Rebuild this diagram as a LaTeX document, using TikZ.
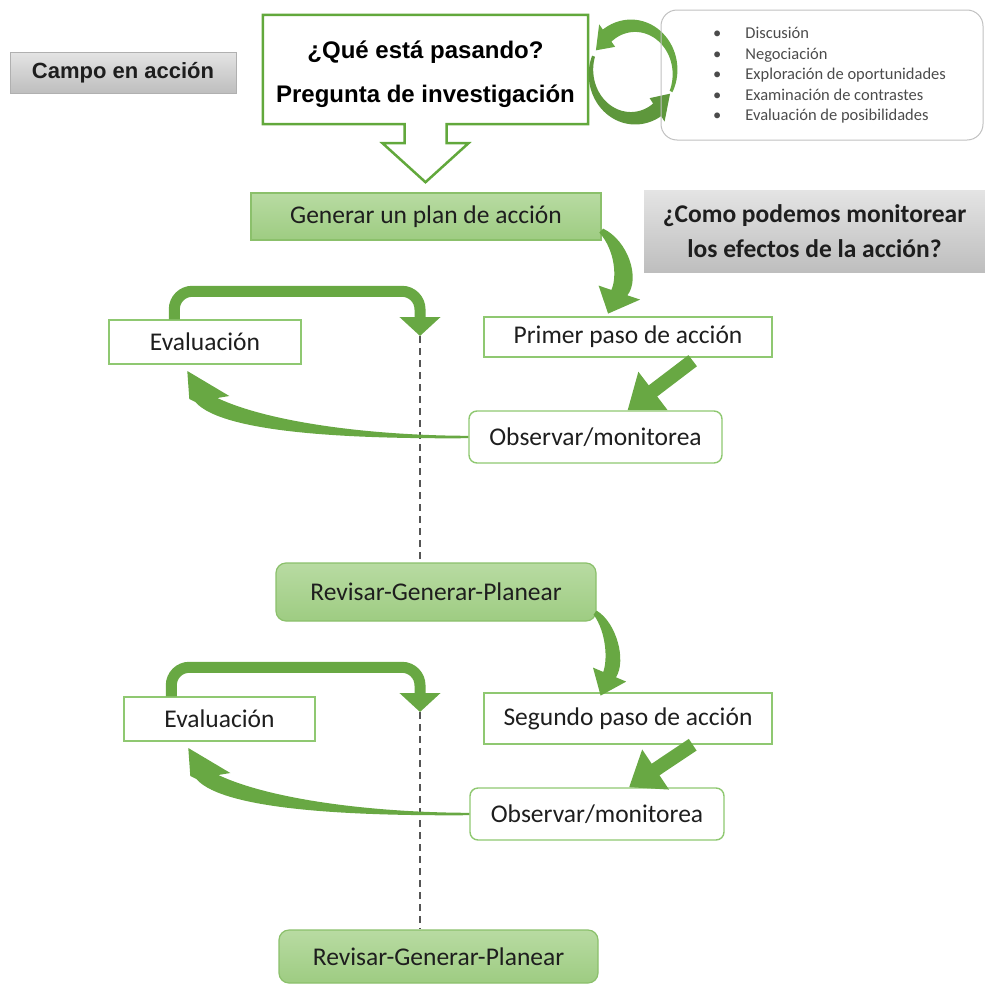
\documentclass[tikz,border=0pt]{standalone}
\usepackage{fontspec}
\setmainfont{Carlito}
\newfontfamily\arialfont{Liberation Sans}
\usetikzlibrary{arrows.meta,calc}

\definecolor{leaf}{HTML}{62A83C}
\definecolor{leaflight}{HTML}{8FC871}
\definecolor{leafmid}{HTML}{8BC06B}
\definecolor{arrowgreen}{HTML}{68A843}
\definecolor{boxtop}{HTML}{B8DBA2}
\definecolor{boxbot}{HTML}{9ECC82}
\definecolor{graytop}{HTML}{E4E4E4}
\definecolor{graybot}{HTML}{BEBEBE}
\definecolor{grayedge}{HTML}{B0B0B0}
\definecolor{ink}{HTML}{1E1E1E}
\definecolor{dashgray}{HTML}{555555}

% tapered arrow running left from an "Observar" box up to an "Evaluacion" box
\newcommand{\backarrow}[1]{%
  \fill[arrowgreen, shift={(#1)}]
    (0,-1.2) .. controls (-100,-1.5) and (-200,-15) .. (-251,-39)
    -- (-239,-41) -- (-281,-66) -- (-279,-38) -- (-273,-35)
    .. controls (-245,-3) and (-110,2) .. (0,1.2) -- cycle;}

% tapered arrow bending down from a plan box to the next action step
\newcommand{\downcurve}[2]{%
  \fill[arrowgreen, shift={(#1)}, xscale=#2]
    (2,-2) .. controls (22,10) and (32,48) .. (21.4,64.7)
    -- (31.6,69) -- (6,83) -- (-1.6,55) -- (8.6,59.3)
    .. controls (13,48) and (12,20) .. (-1,2) -- cycle;}

\begin{document}
\begin{tikzpicture}[x=1pt,y=-1pt,
  txt/.style={text=ink, font=\fontsize{25.5}{30}\selectfont, inner sep=0pt},
  whitebox/.style={txt, draw=leaflight, line width=1.4pt, fill=white},
  greenbox/.style={txt, draw=leafmid, line width=1.2pt, top color=boxtop, bottom color=boxbot},
  graybox/.style={draw=grayedge, line width=0.8pt, top color=graytop, bottom color=graybot, inner sep=0pt, text=ink},
  looparrow/.style={draw=arrowgreen, line width=11pt, rounded corners=18pt, -{Triangle[width=40pt,length=19pt]}},
  slantarrow/.style={draw=arrowgreen, line width=14pt, -{Triangle[width=46pt,length=32pt]}},
  dashline/.style={draw=dashgray, line width=1.3pt, dash pattern=on 7pt off 5pt},
]
\useasboundingbox (0,0) rectangle (985,985);

% ---- header row
\node[graybox, minimum width=226pt, minimum height=41pt,
      font=\arialfont\bfseries\fontsize{22}{26}\selectfont] (campo) at (123,72.5) {Campo en acción};

\node[minimum width=325pt, minimum height=109pt, inner sep=0pt] (q) at (425.5,69.5) {};
\draw[leaf, line width=2.5pt, fill=white, line join=miter]
  (q.north west) -- (q.north east) -- (q.south east)
  -- ($(q.south)+(21,0)$) -- ($(q.south)+(21,19)$) -- ($(q.south)+(43,19)$)
  -- ($(q.south)+(0,58)$)
  -- ($(q.south)+(-43,19)$) -- ($(q.south)+(-21,19)$) -- ($(q.south)+(-21,0)$)
  -- (q.south west) -- cycle;
\node[align=center, inner sep=0pt, text=black,
      font=\arialfont\bfseries\fontsize{24}{44}\selectfont] (qtext) at ($(q.center)+(0,4.5)$)
  {¿Qué está pasando?\\Pregunta de investigación};

% cycle of two arrows beside the question
\begin{scope}[shift={(633,72)}, yscale=-1.1]
  \fill[arrowgreen]
    plot[domain=-25:128, samples=40] ({(42+1.5+5.5*(\x+25)/153)*cos(\x)}, {(42+1.5+5.5*(\x+25)/153)*sin(\x)})
    -- (128:55) -- (152:42) -- (128:29)
    -- plot[domain=128:-25, samples=40] ({(42-1.5-5.5*(\x+25)/153)*cos(\x)}, {(42-1.5-5.5*(\x+25)/153)*sin(\x)})
    -- cycle;
  \fill[arrowgreen!90!black]
    plot[domain=160:305, samples=40] ({(42+1.5+5.5*(\x-160)/145)*cos(\x)}, {(42+1.5+5.5*(\x-160)/145)*sin(\x)})
    -- (305:55) -- (332:42) -- (305:29)
    -- plot[domain=305:160, samples=40] ({(42-1.5-5.5*(\x-160)/145)*cos(\x)}, {(42-1.5-5.5*(\x-160)/145)*sin(\x)})
    -- cycle;
\end{scope}

\node[draw=grayedge!80, line width=1pt, rounded corners=16pt, minimum width=322pt, minimum height=130pt] (ideas) at (822,75) {};
\node[anchor=west, inner sep=0pt, text=ink!80, font=\fontsize{16.5}{20.5}\selectfont] (list) at (713,75.5)
  {\begin{tabular}{@{}l@{\hspace{24pt}}l@{}}
   • & Discusión\\
   • & Negociación\\
   • & Exploración de oportunidades\\
   • & Examinación de contrastes\\
   • & Evaluación de posibilidades
   \end{tabular}};

% ---- plan and monitoring question
\node[greenbox, minimum width=350pt, minimum height=47pt] (gen) at (426,216.5) {Generar un plan de acción};
\node[graybox, draw=none, minimum width=341pt, minimum height=82pt, align=center,
      font=\bfseries\fontsize{25.5}{35}\selectfont] (monitor) at (814.5,231)
  {¿Como podemos monitorear\\los efectos de la acción?};

% ---- first cycle
\node[whitebox, minimum width=192pt, minimum height=44pt] (eval1) at (205,342) {Evaluación};
\node[whitebox, minimum width=288pt, minimum height=40pt] (primer) at (628,337) {Primer paso de acción};
\node[whitebox, rounded corners=8pt, minimum width=253pt, minimum height=52pt] (obs1) at (595.5,437) {Observar/monitorea};
\node[greenbox, rounded corners=10pt, minimum width=320pt, minimum height=58pt] (rev1) at (436,592) {Revisar-Generar-Planear};

% ---- second cycle
\node[whitebox, minimum width=191pt, minimum height=44pt] (eval2) at (219.5,719) {Evaluación};
\node[whitebox, minimum width=288pt, minimum height=51pt] (seg) at (628,718.5) {Segundo paso de acción};
\node[whitebox, rounded corners=8pt, minimum width=254pt, minimum height=52pt] (obs2) at (597,814) {Observar/monitorea};
\node[greenbox, rounded corners=10pt, minimum width=319pt, minimum height=53pt] (rev2) at (438.5,956.5) {Revisar-Generar-Planear};

% ---- dashed time lines
\coordinate (d1top) at (420,336);
\coordinate (d2top) at (420,712);
\draw[dashline] (d1top) -- (d1top |- rev1.north);
\draw[dashline] (d2top) -- (d2top |- rev2.north);

% ---- connectors
\downcurve{$(gen.south east)+(-1,-10)$}{1.25}
\downcurve{$(rev1.south east)+(-2,-9)$}{1}

\draw[looparrow] ($(eval1.north west)+(66,0)$) -- ++(0,-28) -| (d1top);
\draw[looparrow] ($(eval2.north west)+(48,0)$) -- ++(0,-29) -| (d2top);

\draw[slantarrow] ($(primer.south east)+(-80,3)$) -- ($(obs1.north)+(32,0)$);
\draw[slantarrow] ($(seg.south east)+(-80,0)$) -- ($(obs2.north)+(32,0)$);

\backarrow{obs1.west}
\backarrow{obs2.west}

\end{tikzpicture}
\end{document}
